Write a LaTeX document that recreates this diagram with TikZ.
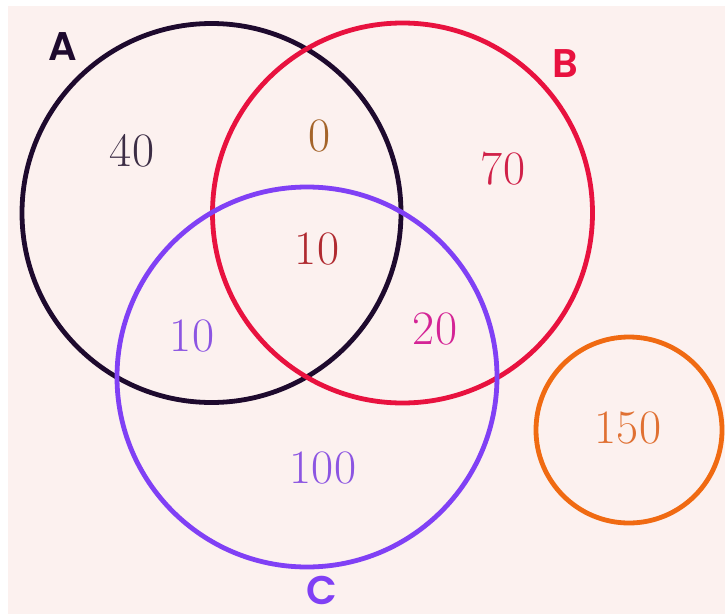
\documentclass[tikz,border=0pt]{standalone}
\usepackage{fontspec}
\newfontfamily\labfont{Poppins}[BoldFont={* SemiBold}]
\definecolor{bg}{HTML}{FCF1EF}
\definecolor{cA}{HTML}{1E0A2E}
\definecolor{cB}{HTML}{E8123F}
\definecolor{cC}{HTML}{8040F5}
\definecolor{cD}{HTML}{F06A12}
\definecolor{tA}{HTML}{3C2D45}
\definecolor{tB}{HTML}{D02048}
\definecolor{tC}{HTML}{8C55E2}
\definecolor{tAB}{HTML}{A4642A}
\definecolor{tABC}{HTML}{B02A30}
\definecolor{tBC}{HTML}{D42496}
\definecolor{tD}{HTML}{E07032}
\begin{document}
\begin{tikzpicture}[x=1pt,y=-1pt,
  ring/.style={circle, draw, line width=4.8pt, inner sep=0pt},
  num/.style={font=\fontsize{48}{48}\selectfont, inner sep=0pt},
  setlab/.style={font=\labfont\bfseries\fontsize{40}{40}\selectfont, inner sep=0pt}]
\useasboundingbox (0,0) rectangle (725,613);
\fill[white] (-2,-2) rectangle (727,615);
\fill[bg] (8,6) rectangle (727,615);
\node[ring, draw=cA, minimum size=379pt] (A) at (211.5,213) {};
\node[ring, draw=cB, minimum size=380pt] (B) at (402.5,213) {};
\node[ring, draw=cC, minimum size=380pt] (C) at (307,377) {};
\node[ring, draw=cD, minimum size=186pt] (D) at (629,430) {};
\node[setlab, text=cA] (la) at (63,47) {A};
\node[setlab, text=cB] (lb) at (565,64) {B};
\node[setlab, text=cC] (lc) at (322,590) {C};
\node[num, text=tA] (n40) at (132,151) {40};
\node[num, text=tAB] (n0) at (320,136) {0};
\node[num, text=tB] (n70) at (503,169) {70};
\node[num, text=tABC] (n10c) at (317,249) {10};
\node[num, text=tC] (n10a) at (192,336) {10};
\node[num, text=tBC] (n20) at (435,329) {20};
\node[num, text=tC] (n100) at (323,468) {100};
\node[num, text=tD] (n150) at (628,428) {150};
\end{tikzpicture}
\end{document}
